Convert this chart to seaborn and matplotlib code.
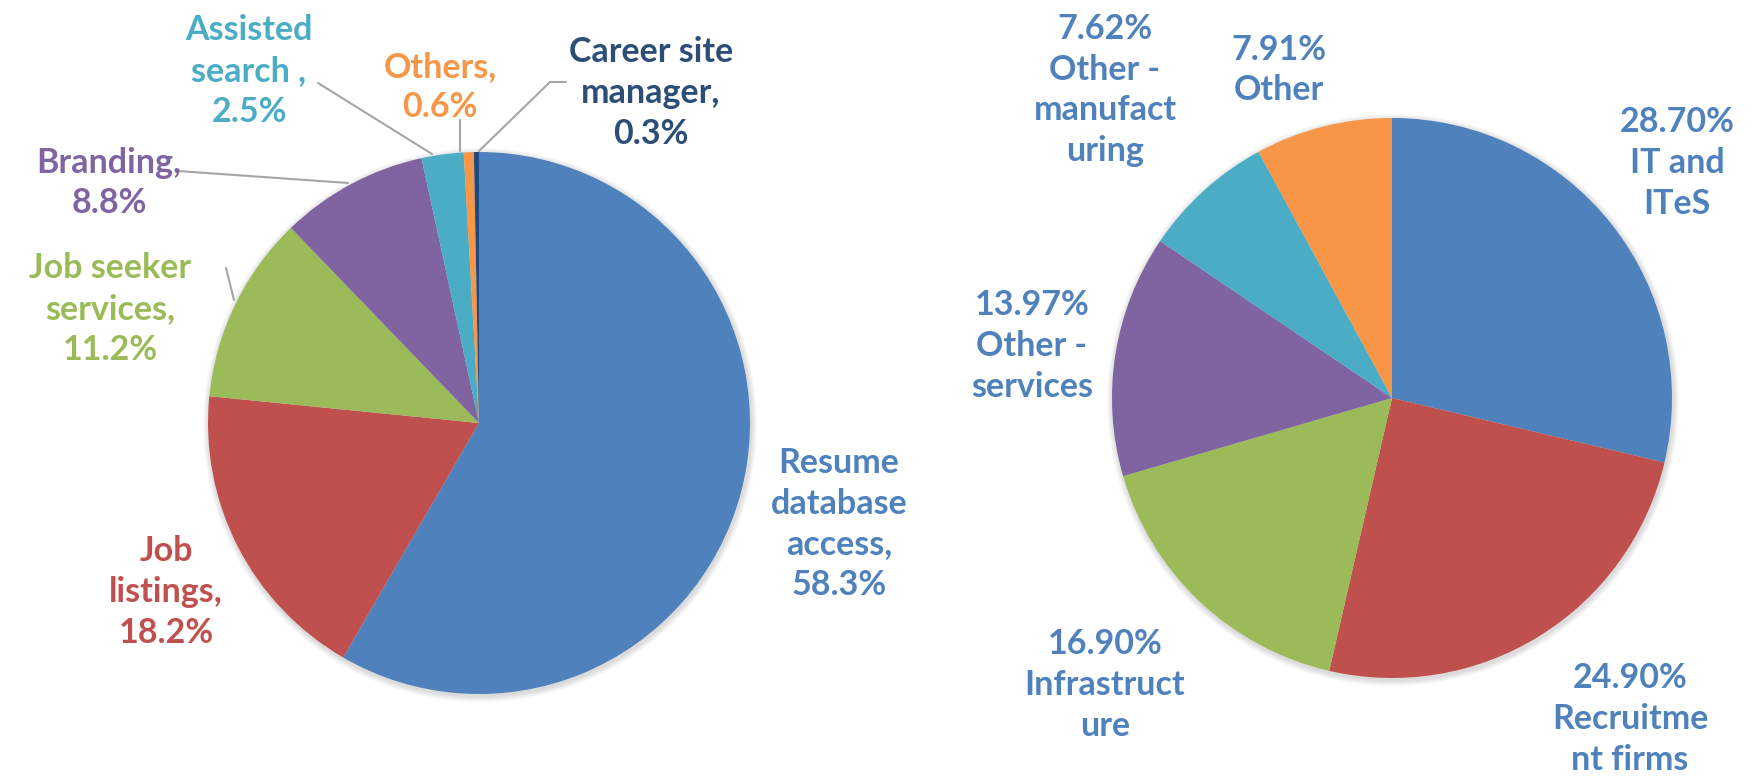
import matplotlib
matplotlib.use("Agg")
import matplotlib.pyplot as plt
import seaborn as sns

sns.set_theme(style="white")
plt.rcParams['font.family'] = ['Lato', 'DejaVu Sans']

# left pie: revenue by service
svc_labels = ["Resume\ndatabase\naccess,\n58.3%", "Job\nlistings,\n18.2%", "Job seeker\nservices,\n11.2%",
              "Branding,\n8.8%", "Assisted\nsearch ,\n2.5%", "Others,\n0.6%", "Career site\nmanager,\n0.3%"]
svc_values = [58.3, 18.2, 11.2, 8.8, 2.5, 0.6, 0.3]
svc_colors = ["#4F81BD", "#C0504D", "#9BBB59", "#8064A2", "#4BACC6", "#F79646", "#1F497D"]
svc_text_colors = ["#4F81BD", "#C0504D", "#9BBB59", "#8064A2", "#4BACC6", "#F79646", "#2C4D75"]

# right pie: revenue by client industry
ind_labels = ["28.70%\nIT and\nITeS", "24.90%\nRecruitme\nnt firms", "16.90%\nInfrastruct\nure",
              "13.97%\nOther -\nservices", "7.62%\nOther -\nmanufact\nuring", "7.91%\nOther"]
ind_values = [28.70, 24.90, 16.90, 13.97, 7.62, 7.91]
ind_colors = ["#4F81BD", "#C0504D", "#9BBB59", "#8064A2", "#4BACC6", "#F79646"]

W, H = 1759, 780
fig = plt.figure(figsize=(W / 100, H / 100), dpi=100)
ax = fig.add_axes([0, 0, 1, 1])

def py(y):
    # pixel row -> data y
    return H - y

# soft shadow behind the pies
for cx, cy, r in [(479, 423, 271), (1392, 398, 280)]:
    for k in range(6):
        c = plt.Circle((cx + 1, py(cy) - 2), r + 1 + k, color="black", alpha=0.025, lw=0)
        ax.add_patch(c)

ax.pie(svc_values, colors=svc_colors, startangle=90, counterclock=False,
       center=(479, py(423)), radius=271, wedgeprops=dict(linewidth=0))
ax.pie(ind_values, colors=ind_colors, startangle=90, counterclock=False,
       center=(1392, py(398)), radius=280, wedgeprops=dict(linewidth=0))

ax.set_xlim(0, W)
ax.set_ylim(0, H)
ax.set_aspect("equal")
ax.axis("off")

fs = 24.5
svc_pos = [(839, 524), (166, 592), (110, 309), (109, 183), (249, 71), (440, 87), (651, 93)]
for lab, (x, y), c in zip(svc_labels, svc_pos, svc_text_colors):
    ax.text(x, py(y), lab, color=c, fontsize=fs, fontweight="bold", ha="center", va="center",
            linespacing=1.33)

ind_pos = [(1677, 163), (1630, 719), (1105, 685), (1032, 346), (1105, 90), (1279, 70)]
for lab, (x, y) in zip(ind_labels, ind_pos):
    ax.text(x, py(y), lab, color="#4F81BD", fontsize=fs, fontweight="bold", ha="center", va="center",
            linespacing=1.33)

# leader lines
leaders = [
    [(178, 171), (348, 183)],
    [(226, 268), (234, 300)],
    [(318, 83), (432, 154)],
    [(460, 120), (460, 151)],
    [(566, 82), (550, 82), (479, 151)],
]
for pts in leaders:
    ax.plot([p[0] for p in pts], [py(p[1]) for p in pts], color="#A6A6A6", lw=1.5)

fig.savefig("out.png", dpi=100)
